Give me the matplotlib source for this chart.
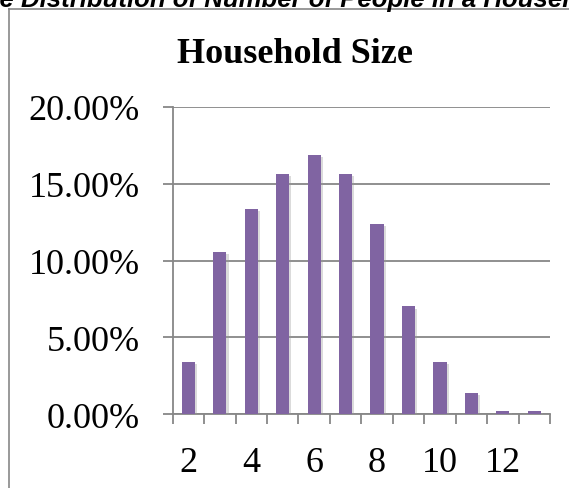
import numpy as np
import matplotlib.pyplot as plt
import matplotlib.patheffects as pe
from matplotlib.lines import Line2D

# household size categories and share of households (%)
sizes = [2, 3, 4, 5, 6, 7, 8, 9, 10, 11, 12, 13]
shares = [3.38, 10.58, 13.38, 15.6, 16.84, 15.6, 12.4, 7.01, 3.38, 1.36, 0.2, 0.2]
shown_labels = [2, 4, 6, 8, 10, 12]

bar_color = '#8064A2'
axis_gray = '#878787'

fig = plt.figure(figsize=(5.69, 4.89), dpi=100)
fig.patch.set_facecolor('white')

# caption above the chart box (runs off the page edges)
caption = 'The Distribution of Number of People in a Household'
cap_size = 18.5
cap = fig.text(0, 1 - 6.5 / 489, caption, fontsize=cap_size, fontweight='bold',
               style='italic', family='Liberation Sans', va='baseline', ha='left')
renderer = fig.canvas.get_renderer()
probe = fig.text(0, 0, 'Th', fontsize=cap_size, fontweight='bold', style='italic',
                 family='Liberation Sans')
shift = probe.get_window_extent(renderer).width
probe.remove()
cap.set_x(-shift / fig.bbox.width)

# chart area border
fig.add_artist(Line2D([9 / 569, 9 / 569], [0, 1 - 10 / 489], color=axis_gray, lw=1.2))
fig.add_artist(Line2D([9 / 569, 1], [1 - 10 / 489, 1 - 10 / 489], color=axis_gray, lw=1.2))

ax = fig.add_axes([172.7 / 569, 73.7 / 489, (550 - 172.7) / 569, (415.3 - 107.7) / 489])

x = np.arange(len(sizes))
bars = ax.bar(x, shares, width=0.42, color=bar_color, zorder=3)
for b in bars:
    b.set_path_effects([pe.SimplePatchShadow(offset=(1.5, -1.5), shadow_rgbFace='#9a9a9a',
                                             alpha=0.35), pe.Normal()])

ax.set_xlim(-0.5, len(sizes) - 0.5)
ax.set_ylim(0, 20)

ax.set_yticks([0, 5, 10, 15, 20])
ax.set_yticklabels(['%.2f%%' % v for v in [0, 5, 10, 15, 20]])
ax.grid(axis='y', color=axis_gray, lw=1.3, zorder=0)

# category boundaries get tick marks, every other category gets a label
ax.set_xticks(np.arange(len(sizes) + 1) - 0.5)
ax.set_xticklabels([])
ax.set_xticks([sizes.index(s) for s in shown_labels], minor=True)
ax.set_xticklabels([str(s) for s in shown_labels], minor=True)

ax.tick_params(axis='both', which='major', direction='out', length=7.5, width=1.3,
               color=axis_gray, labelsize=26, pad=16)
ax.tick_params(axis='x', which='minor', length=0, labelsize=26, pad=23)
for lab in ax.get_xticklabels(minor=True) + ax.get_yticklabels():
    lab.set_family('Liberation Serif')

for side in ['top', 'right']:
    ax.spines[side].set_visible(False)
for side in ['left', 'bottom']:
    ax.spines[side].set_color(axis_gray)
    ax.spines[side].set_linewidth(1.3)

fig.text(295 / 569, 1 - 63 / 489, 'Household Size', fontsize=26, fontweight='bold',
         family='Liberation Serif', ha='center', va='baseline')

fig.savefig('out.png', dpi=100)
